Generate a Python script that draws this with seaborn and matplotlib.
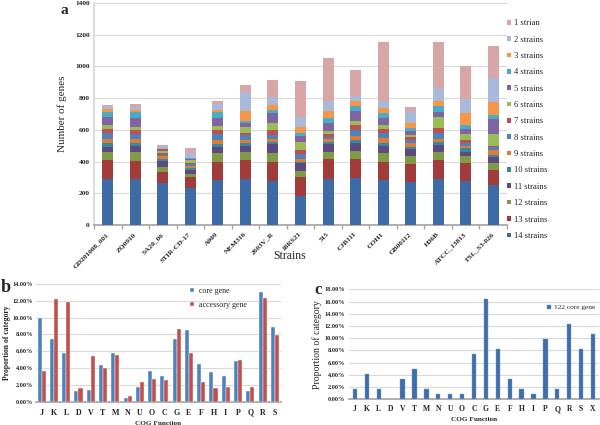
import numpy as np
import pandas as pd
import seaborn as sns
import matplotlib
matplotlib.use("Agg")
import matplotlib.pyplot as plt
from matplotlib.patches import Patch
from matplotlib.ticker import FuncFormatter

# ---- panel a data: genes per strain, split by how many strains share them
strains = ["GD201008_001", "ZQ0910", "SA20_06", "STIR-CD-17", "A909", "NEM316",
           "2603V_R", "18RS21", "515", "CJB111", "COH1", "GB00112", "H36B",
           "ATCC_13813", "FSL_S3-026"]
# layers from bottom (14 strains) to top (1 strain)
layer_labels = ["14 strains", "13 strains", "12 strains", "11 strains", "10 strains",
                "9 strains", "8 strains", "7 strains", "6 strains", "5 strains",
                "4 strains", "3 strains", "2 strains", "1 strian"]
s14 = [288, 288, 267, 236, 282, 288, 280, 185, 288, 295, 284, 274, 288, 280, 253]
s13 = [122, 118, 70, 64, 118, 122, 118, 116, 127, 122, 116, 111, 122, 114, 94]
s12 = [49, 53, 31, 20, 52, 49, 59, 38, 48, 52, 53, 47, 51, 38, 47]
s11 = [36, 40, 38, 30, 38, 40, 55, 50, 46, 47, 48, 46, 44, 31, 33]
s10 = [21, 17, 13, 12, 21, 21, 14, 11, 17, 21, 15, 17, 17, 21, 15]
s9 = [29, 25, 14, 8, 24, 17, 15, 15, 15, 27, 31, 21, 19, 17, 32]
s8 = [34, 32, 10, 12, 36, 31, 27, 33, 17, 36, 32, 17, 38, 15, 16]
s7 = [25, 23, 10, 10, 25, 15, 28, 26, 15, 29, 25, 21, 31, 17, 11]
s6 = [25, 25, 12, 15, 30, 34, 46, 50, 21, 28, 25, 16, 68, 42, 74]
s5 = [51, 55, 12, 10, 50, 25, 63, 38, 48, 61, 45, 24, 33, 31, 94]
s4 = [34, 38, 5, 4, 36, 17, 21, 17, 32, 33, 35, 19, 40, 26, 26]
s3 = [16, 12, 5, 4, 14, 57, 32, 42, 48, 28, 28, 29, 32, 73, 78]
s2 = [21, 20, 14, 26, 40, 120, 48, 59, 61, 36, 42, 74, 80, 89, 153]
s1 = [5, 16, 4, 34, 19, 48, 110, 225, 270, 164, 372, 31, 291, 210, 200]
layer_colors = ["#3E6AA5", "#A23C3A", "#7F9B48", "#5E4A80", "#3589A1", "#DC7C35",
                "#4F81BD", "#C0504D", "#9BBB59", "#8064A2", "#4BACC6", "#F79646",
                "#A8B9DA", "#D9A6A7"]

# ---- panel b data: COG category proportions (%)
cog_b = ["J", "K", "L", "D", "V", "T", "M", "N", "U", "O", "C", "G", "E", "F",
         "H", "I", "P", "Q", "R", "S"]
core_b = [9.9, 7.45, 5.8, 1.3, 1.4, 4.35, 5.75, 0.4, 1.7, 3.7, 3.0, 7.4, 8.5, 4.5,
          3.5, 3.1, 4.85, 1.25, 13.0, 8.9]
acc_b = [3.6, 12.2, 11.8, 1.6, 5.45, 3.95, 5.55, 0.65, 2.4, 2.75, 2.6, 8.6, 5.85, 2.3,
         1.6, 1.8, 4.95, 1.7, 12.3, 7.9]

# ---- panel c data: 122 core genes (%)
cog_c = ["J", "K", "L", "D", "V", "T", "M", "N", "U", "O", "C", "G", "E", "F",
         "H", "I", "P", "Q", "R", "S", "X"]
core_c = [1.64, 4.10, 1.64, 0.0, 3.28, 4.92, 1.64, 0.82, 0.82, 0.82, 7.38, 16.39, 8.20,
          3.28, 1.64, 0.82, 9.84, 1.64, 12.30, 8.20, 10.66]

sns.set_theme(style="white")
plt.rcParams["font.family"] = ["Liberation Serif", "DejaVu Serif"]

W, H = 600, 425
fig = plt.figure(figsize=(6, 4.25), dpi=100)


def box(x0, x1, ytop, ybot):
    return [x0 / W, 1 - ybot / H, (x1 - x0) / W, (ybot - ytop) / H]


grid_c = "#D9D9D9"
tick_kw = dict(fontsize=5.3, fontweight="bold")

# ================= panel a =================
axa = fig.add_axes(box(94, 507, 3, 225))
layers = np.array([s14, s13, s12, s11, s10, s9, s8, s7, s6, s5, s4, s3, s2, s1])
cum = np.cumsum(layers, axis=0)
for k in range(len(layers) - 1, -1, -1):
    sns.barplot(x=strains, y=cum[k], color=layer_colors[k], saturation=1,
                width=0.4, linewidth=0, ax=axa, zorder=3)
axa.set_ylim(0, 1400)
axa.set_yticks(range(0, 1401, 200))
axa.set_yticklabels([str(v) for v in range(0, 1401, 200)], **tick_kw)
axa.set_xlim(-0.5, len(strains) - 0.5)
axa.set_xticks(range(len(strains)))
axa.set_xticklabels(strains, rotation=45, ha="right", va="center",
                    rotation_mode="anchor", **tick_kw)
axa.set_xticks(np.arange(-0.5, len(strains)), minor=True)
axa.tick_params(axis="x", which="major", length=0, pad=6)
axa.tick_params(axis="x", which="minor", length=3, color="#A6A6A6", bottom=True)
axa.tick_params(axis="y", length=0, pad=3)
axa.yaxis.grid(True, color=grid_c, linewidth=0.8, zorder=0)
axa.set_axisbelow(True)
for sp in ["top", "right"]:
    axa.spines[sp].set_visible(False)
axa.spines["left"].set_color(grid_c)
axa.spines["bottom"].set_color("#A6A6A6")
axa.set_ylabel("Number of genes", fontsize=8, labelpad=6)
axa.set_xlabel("")
fig.text(290 / W, 1 - 256 / H, "Strains", fontsize=8.5, ha="center", va="center")
fig.text(64 / W, 1 - 10 / H, "a", fontsize=11, fontweight="bold", ha="center", va="center")

handles = [Patch(facecolor=layer_colors[k], edgecolor="none") for k in range(13, -1, -1)]
labels = [layer_labels[k] for k in range(13, -1, -1)]
fig.legend(handles, labels, loc="upper left", bbox_to_anchor=(503 / W, 1 - 15 / H),
           frameon=False, fontsize=6.2, handlelength=0.45, handleheight=0.45,
           handletextpad=0.3, labelspacing=0.97, borderpad=0)

# ================= panel b =================
axb = fig.add_axes(box(35.5, 281, 284, 401.7))
dfb = pd.DataFrame({
    "cog": cog_b * 2,
    "value": core_b + acc_b,
    "type": ["core gene"] * len(cog_b) + ["accessory gene"] * len(cog_b),
})
sns.barplot(data=dfb, x="cog", y="value", hue="type",
            palette=["#4F81BD", "#C0504D"], saturation=1, width=0.66,
            edgecolor="white", linewidth=0.3, ax=axb, zorder=3)
axb.set_ylim(0, 14)
axb.set_yticks(range(0, 15, 2))
axb.yaxis.set_major_formatter(FuncFormatter(lambda v, p: "%.2f%%" % v))
for t in axb.get_yticklabels():
    t.set_fontsize(4.5)
    t.set_fontweight("bold")
axb.set_xticks(range(len(cog_b)))
axb.set_xticklabels(cog_b, fontsize=5.8, fontweight="bold")
axb.set_xlim(-0.5, len(cog_b) - 0.5)
axb.tick_params(axis="both", length=0, pad=2)
axb.tick_params(axis="x", pad=5)
axb.yaxis.grid(True, color=grid_c, linewidth=0.8, zorder=0)
axb.set_axisbelow(True)
for sp in ["top", "right", "left"]:
    axb.spines[sp].set_visible(False)
axb.spines["bottom"].set_color("#A6A6A6")
axb.set_xlabel("COG Function", fontsize=5.2, fontweight="bold", labelpad=3)
axb.set_ylabel("Proportion of category", fontsize=5.6, fontweight="bold", labelpad=1)
axb.legend(loc="upper left", bbox_to_anchor=(0.6, 1.04), frameon=False, fontsize=5.8,
           handlelength=0.45, handleheight=0.45, handletextpad=0.6, labelspacing=0.8)
fig.text(6 / W, 1 - 288 / H, "b", fontsize=13, fontweight="bold", ha="center", va="center")

# ================= panel c =================
axc = fig.add_axes(box(349, 599, 289.3, 399.3))
sns.barplot(x=cog_c, y=core_c, color="#3F6EA9", saturation=1, width=0.36,
            edgecolor="#7FA2D0", linewidth=0.3, ax=axc, zorder=3,
            label="122 core gene")
axc.set_ylim(0, 18)
axc.set_yticks(range(0, 19, 2))
axc.yaxis.set_major_formatter(FuncFormatter(lambda v, p: "%.2f%%" % v))
for t in axc.get_yticklabels():
    t.set_fontsize(4.5)
    t.set_fontweight("bold")
axc.set_xticks(range(len(cog_c)))
axc.set_xticklabels(cog_c, fontsize=5.5, fontweight="bold")
axc.set_xlim(-0.5, len(cog_c) - 0.5)
axc.tick_params(axis="both", length=0, pad=3)
axc.tick_params(axis="x", pad=4)
axc.yaxis.grid(True, color=grid_c, linewidth=0.8, zorder=0)
axc.set_axisbelow(True)
for sp in ["top", "right", "left"]:
    axc.spines[sp].set_visible(False)
axc.spines["bottom"].set_color("#A6A6A6")
axc.set_xlabel("COG Function", fontsize=5.2, fontweight="bold", labelpad=3)
axc.set_ylabel("Proportion of category", fontsize=7, labelpad=2)
axc.legend(loc="upper right", bbox_to_anchor=(1.01, 0.92), frameon=False, fontsize=5.3,
           handlelength=0.45, handleheight=0.45, handletextpad=0.4)
fig.text(318 / W, 1 - 290 / H, "c", fontsize=12, fontweight="bold", ha="center", va="center")

fig.savefig("out.png", dpi=100)
